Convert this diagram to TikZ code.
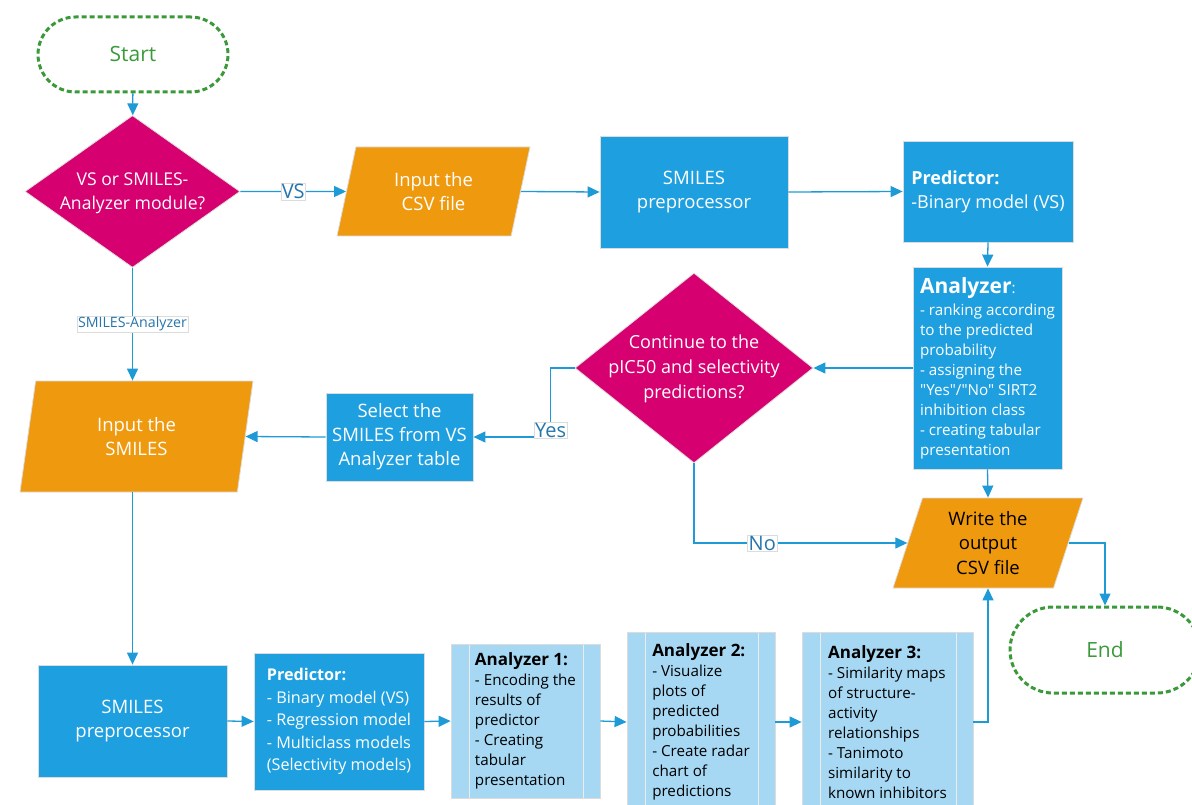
\documentclass[tikz,border=0pt]{standalone}
\usepackage{fontspec}
\setmainfont{Open Sans}[Ligatures=TeXOff]
\usetikzlibrary{shapes.geometric,arrows.meta}

\definecolor{cMag}{HTML}{D60070}
\definecolor{cOrange}{HTML}{EF990E}
\definecolor{cBlue}{HTML}{1EA0E0}
\definecolor{cLight}{HTML}{A6D8F4}
\definecolor{cGreen}{HTML}{3A9A3A}
\definecolor{cLine}{HTML}{1E9AD6}
\definecolor{cLbl}{HTML}{2676AC}
\definecolor{cEdge}{HTML}{DCDCDC}

\tikzset{
  terminal/.style={draw=cGreen, line width=3pt, dash pattern=on 5pt off 3pt,
    text=cGreen, font=\fontsize{21}{26}\selectfont},
  decision/.style={diamond, fill=cMag, draw=cEdge, line width=0.8pt, inner sep=0pt},
  dectext/.style={text=white, align=center, font=\fontsize{17.6}{23.5}\selectfont},
  proc/.style={rectangle, fill=cBlue, draw=cEdge, line width=0.8pt, text=white,
    inner sep=0pt, align=center, font=\fontsize{18.5}{24}\selectfont},
  iobox/.style={trapezium, trapezium stretches body, fill=cOrange, draw=cEdge,
    line width=0.8pt, inner sep=0pt, align=center, text=white,
    font=\fontsize{18.5}{24.5}\selectfont},
  subproc/.style={rectangle, fill=cLight, draw=cEdge, line width=0.8pt,
    inner sep=0pt, align=left, font=\fontsize{15.2}{20}\selectfont,
    path picture={
      \draw[white!85!gray, line width=1pt]
        ([xshift=18pt]path picture bounding box.north west) --
        ([xshift=18pt]path picture bounding box.south west)
        ([xshift=-17pt]path picture bounding box.north east) --
        ([xshift=-17pt]path picture bounding box.south east);}},
  conn/.style={draw=cLine, line width=1.3pt, -{Triangle[length=12pt,width=11pt]}},
  lbl/.style={fill=white, draw=cEdge, line width=0.5pt, inner sep=1pt, text=cLbl,
    font=\fontsize{20}{24}\selectfont},
  lblsmall/.style={lbl, font=\fontsize{14.2}{17}\selectfont}
}

\begin{document}
\begin{tikzpicture}[x=1pt, y=-1pt]
\useasboundingbox (0,0) rectangle (1192,805);

% terminals
\node[terminal, rounded corners=37.5pt, minimum width=190pt, minimum height=75pt]
  (start) at (133,54.5) {Start};
\node[terminal, rounded corners=43pt, minimum width=190pt, minimum height=86pt]
  (end) at (1105,650) {End};

% decisions
\node[decision, minimum width=215pt, minimum height=152pt] (d1) at (132.5,191.5) {};
\node[dectext] (d1t) at (132.5,193) {VS or SMILES-\\Analyzer module?};
\node[decision, minimum width=238pt, minimum height=190pt] (d2) at (694,368) {};
\node[dectext, font=\fontsize{18}{25}\selectfont] (d2t) at (694,369)
  {Continue to the\\pIC50 and selectivity\\predictions?};

% input / output
\node[iobox, trapezium left angle=64, trapezium right angle=116,
  minimum width=193pt, minimum height=89pt] (csv) at (433.5,191.5) {Input the\\CSV file};
\node[iobox, trapezium left angle=68, trapezium right angle=112,
  minimum width=233pt, minimum height=111pt] (smi) at (136.5,436.5) {Input the\\SMILES};
\node[iobox, text=black, trapezium left angle=65, trapezium right angle=115,
  minimum width=190pt, minimum height=90pt] (wr) at (988,543) {Write the\\output\\CSV file};

% process boxes
\node[proc, minimum width=188pt, minimum height=112pt] (pre1) at (694,192)
  {SMILES\\preprocessor};
\node[proc, align=left, font=\fontsize{18}{24}\selectfont,
  minimum width=170pt, minimum height=101pt] (pred1) at (988,191.5)
  {\textbf{Predictor:}\\-Binary model (VS)};
\node[proc, align=left, font=\fontsize{15.2}{20}\selectfont,
  minimum width=149pt, minimum height=202pt] (ana) at (987.5,368)
  {{\fontsize{21}{24}\selectfont\bfseries Analyzer}:\\[2pt]
   - ranking according\\to the predicted\\probability\\- assigning the\\
   "Yes"/"No" SIRT2\\inhibition class\\- creating tabular\\presentation};
\node[proc, minimum width=147pt, minimum height=88pt] (sel) at (399.5,437)
  {Select the\\SMILES from VS\\Analyzer table};
\node[proc, minimum width=189pt, minimum height=112pt] (pre2) at (132.5,721)
  {SMILES\\preprocessor};
\node[proc, align=left, font=\fontsize{16.2}{22.5}\selectfont,
  minimum width=170pt, minimum height=137pt] (pred2) at (339,721.5)
  {\textbf{Predictor:}\\- Binary model (VS)\\- Regression model\\- Multiclass models\\(Selectivity models)};

% analyzer sub-processes
\node[subproc, minimum width=149pt, minimum height=154pt] (a1) at (525.5,721)
  {{\fontsize{17}{20}\selectfont\bfseries Analyzer 1:}\\- Encoding the\\results of\\predictor\\- Creating\\tabular\\presentation};
\node[subproc, minimum width=148pt, minimum height=180pt] (a2) at (701,722)
  {{\fontsize{17}{20}\selectfont\bfseries Analyzer 2:}\\- Visualize\\plots of\\predicted\\probabilities\\- Create radar\\chart of\\predictions};
\node[subproc, minimum width=171pt, minimum height=180pt] (a3) at (887.5,722)
  {{\fontsize{17}{20}\selectfont\bfseries Analyzer 3:}\\- Similarity maps\\of structure-\\activity\\relationships\\- Tanimoto\\similarity to\\known inhibitors};

% connectors
\draw[conn] (start) -- (d1);
\draw[conn] (d1.east) -- node[lbl] (lvs) {VS} (csv.west);
\draw[conn] (csv.east) -- (pre1.west);
\draw[conn] (pre1.east) -- (pred1.west);
\draw[conn] (pred1.south) -- (ana.north);
\draw[conn] (ana.west) -- (d2.east);
\draw[conn] (d2.west) -- ++(-24,0) |- node[lbl, pos=0.5, yshift=7pt] (lyes) {Yes} (sel.east);
\draw[conn] (sel.west) -- (smi.east);
\draw[conn] (d2.south) |- node[lbl, pos=0.66] (lno) {No} (wr.west);
\draw[conn] (ana.south) -- (wr.north);
\draw[conn] (wr.east) -| (end.north);
\draw[conn] (d1.south) -- node[lblsmall] (lsa) {SMILES-Analyzer} (d1.south |- smi.north);
\draw[conn] (smi.south -| d1.south) -- (pre2.north);
\draw[conn] (pre2.east) -- (pred2.west);
\draw[conn] (pred2.east) -- (a1.west);
\draw[conn] (a1.east) -- (a2.west);
\draw[conn] (a2.east) -- (a3.west);
\draw[conn] (a3.east) -| (wr.south);
\end{tikzpicture}
\end{document}
